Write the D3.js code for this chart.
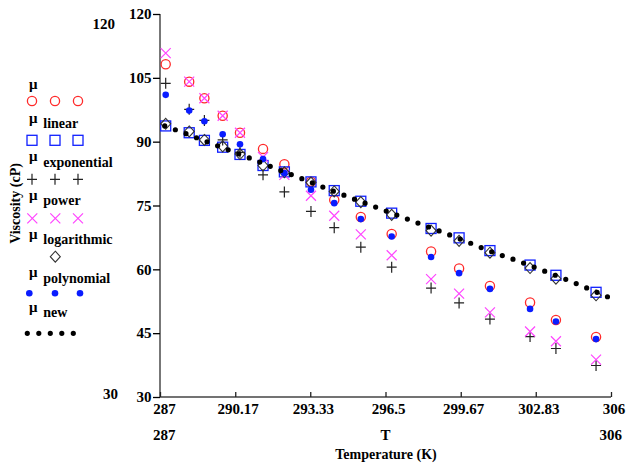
<!DOCTYPE html>
<html>
<head>
<meta charset="utf-8">
<script src="https://cdn.jsdelivr.net/npm/d3@7"></script>
<style>
  html, body { margin: 0; padding: 0; background: #fff; }
  svg { display: block; }
  text { font-family: "Liberation Serif", "Times New Roman", serif; font-weight: bold; fill: #000; }
</style>
</head>
<body>
<svg id="chart" width="628" height="468"></svg>
<script>
// Measured temperatures (K)
const T = [287.24, 288.23, 288.87, 289.64, 290.37, 291.34, 292.24, 293.36, 294.34,
           295.46, 296.76, 298.42, 299.60, 300.90, 302.59, 303.68, 305.37];

// Measured viscosity (cP)
const muMeasured = [108.2, 104.1, 100.2, 96.1, 92.1, 88.3, 84.7, 80.6, 76.3,
                    72.3, 68.3, 64.2, 60.2, 56.1, 52.2, 48.1, 44.1];

// Model predictions at the measured temperatures (cP)
const muLinear = [93.7, 92.1, 90.3, 88.7, 87.0, 84.4, 82.9, 80.55, 78.5,
                  76.0, 73.2, 69.6, 67.4, 64.4, 61.0, 58.6, 54.6];
const muExponential = [103.7, 97.6, 95.0, 90.4, 87.5, 82.2, 78.2, 73.6, 69.8,
                       65.2, 60.5, 55.6, 52.1, 48.3, 44.2, 41.4, 37.4];
const muPower = [110.8, 104.1, 100.2, 96.1, 92.1, 86.4, 82.2, 77.3, 72.6,
                 68.2, 63.3, 57.7, 54.3, 49.9, 45.4, 43.1, 38.8];
const muLogarithmic = [94.2, 92.4, 90.4, 88.9, 87.1, 84.4, 82.8, 80.4, 78.3,
                       75.8, 72.8, 69.1, 66.7, 63.9, 60.3, 57.8, 53.9];
const muPolynomial = [101.0, 97.3, 94.8, 91.75, 89.4, 85.9, 82.6, 78.7, 75.55,
                      71.8, 67.7, 62.9, 59.1, 55.4, 50.7, 47.75, 43.6];

// New correlation, evaluated over the temperature range
const newT = [287.2, 288, 289, 290, 291, 292, 293, 294, 295, 296, 297,
              298, 299, 300, 301, 302, 303, 304, 305, 306];
const newMu = [93.7, 92.08, 89.92, 87.81, 85.65, 83.42, 81.26, 79.03, 76.89, 74.8, 72.71,
               70.6, 68.51, 66.33, 64.07, 62.12, 60.01, 57.85, 55.57, 53.2];

// Axis ticks
const xTickValues = [287, 290.17, 293.33, 296.5, 299.67, 302.83, 306];
const xTickLabels = ["287", "290.17", "293.33", "296.5", "299.67", "302.83", "306"];
const yTickValues = [30, 45, 60, 75, 90, 105, 120];

// Legend subscripts
const legendSubs = ["", "linear", "exponential", "power", "logarithmic", "polynomial", "new"];

const svg = d3.select("#chart");
svg.append("rect").attr("width", 628).attr("height", 468).attr("fill", "#fff");

const x = d3.scaleLinear().domain([287, 306]).range([160, 611]);
const y = d3.scaleLinear().domain([30, 120]).range([397, 14]);

// ---- Axes ----
const yAxis = svg.append("g").attr("transform", "translate(160,0)")
  .call(d3.axisLeft(y).tickValues(yTickValues).tickSize(7).tickPadding(1.5).tickFormat(d3.format("d")));
yAxis.select(".domain").attr("stroke", "#777").attr("stroke-width", 2).attr("d", `M0,${y(120)}V${y(30)}`);
yAxis.selectAll(".tick line").attr("stroke", "#000").attr("stroke-width", 1.3);
yAxis.selectAll(".tick text").attr("font-size", 15).attr("fill", "#000")
  .style("font-family", "'Liberation Serif', serif").style("font-weight", "bold");

const xAxis = svg.append("g").attr("transform", `translate(0,${y(30)})`)
  .call(d3.axisBottom(x).tickValues(xTickValues).tickSize(-5).tickPadding(6)
        .tickFormat((d, i) => xTickLabels[i]));
xAxis.select(".domain").attr("stroke", "#444").attr("stroke-width", 1.5).attr("d", `M${x(287)},0H${x(306)}`);
xAxis.selectAll(".tick line").attr("stroke", "#222").attr("stroke-width", 1.3);
xAxis.selectAll(".tick text").attr("font-size", 15).attr("fill", "#000")
  .attr("dx", (d, i) => i === 0 ? 4 : 2.5)
  .style("font-family", "'Liberation Serif', serif").style("font-weight", "bold");

// Range limit labels and titles
svg.append("text").attr("x", 115).attr("y", 28.5).attr("text-anchor", "end").attr("font-size", 15).text("120");
svg.append("text").attr("x", 118).attr("y", 399).attr("text-anchor", "end").attr("font-size", 15).text("30");
svg.append("text").attr("x", 153).attr("y", 440).attr("font-size", 15).text("287");
svg.append("text").attr("x", 385.5).attr("y", 440).attr("text-anchor", "middle").attr("font-size", 15).text("T");
svg.append("text").attr("x", 622).attr("y", 440).attr("text-anchor", "end").attr("font-size", 15).text("306");
svg.append("text").attr("x", 386).attr("y", 458.5).attr("text-anchor", "middle").attr("font-size", 14).text("Temperature (K)");
svg.append("text").attr("transform", "translate(20,203.5) rotate(-90)").attr("text-anchor", "middle")
  .attr("font-size", 14).text("Viscosity (cP)");

// ---- Marker shapes ----
const shapes = {
  circle: (g, cx, cy) => g.append("circle").attr("cx", cx).attr("cy", cy).attr("r", 4.6)
    .attr("fill", "none").attr("stroke", "#ff2a2a").attr("stroke-width", 1.3),
  square: (g, cx, cy) => g.append("rect").attr("x", cx - 5).attr("y", cy - 5).attr("width", 10).attr("height", 10)
    .attr("fill", "none").attr("stroke", "#1020ff").attr("stroke-width", 1.3),
  plus: (g, cx, cy) => g.append("path").attr("d", `M${cx - 5},${cy}H${cx + 5}M${cx},${cy - 5.5}V${cy + 5.5}`)
    .attr("stroke", "#222").attr("stroke-width", 1.2).attr("fill", "none"),
  cross: (g, cx, cy) => g.append("path").attr("d", `M${cx - 5},${cy - 5}L${cx + 5},${cy + 5}M${cx - 5},${cy + 5}L${cx + 5},${cy - 5}`)
    .attr("stroke", "#ff44ff").attr("stroke-width", 1.2).attr("fill", "none"),
  diamond: (g, cx, cy) => g.append("path").attr("d", `M${cx},${cy - 5.5}L${cx + 5},${cy}L${cx},${cy + 5.5}L${cx - 5},${cy}Z`)
    .attr("stroke", "#333").attr("stroke-width", 1.1).attr("fill", "none"),
  dot: (g, cx, cy) => g.append("circle").attr("cx", cx).attr("cy", cy).attr("r", 3.3).attr("fill", "#0a1cff")
};

const series = [
  { values: muMeasured, shape: "circle" },
  { values: muLinear, shape: "square" },
  { values: muExponential, shape: "plus" },
  { values: muPower, shape: "cross" },
  { values: muLogarithmic, shape: "diamond" },
  { values: muPolynomial, shape: "dot" }
];

const plot = svg.append("g");
series.forEach(s => {
  const g = plot.append("g");
  s.values.forEach((v, i) => shapes[s.shape](g, x(T[i]), y(v)));
});

// New correlation as a dotted trace
const line = d3.line().x((d, i) => x(newT[i])).y(d => y(d)).curve(d3.curveMonotoneX);
plot.append("path").datum(newMu).attr("d", line)
  .attr("fill", "none").attr("stroke", "#000").attr("stroke-width", 5.2)
  .attr("stroke-linecap", "round").attr("stroke-dasharray", "0 11.3");

// ---- Legend ----
const legendRows = [
  { mu: 88.5, sub: 0, marks: 101, shape: "circle", xs: [32, 55, 78] },
  { mu: 123, sub: 128.3, marks: 140.3, shape: "square", xs: [32, 55, 78] },
  { mu: 160.5, sub: 166.7, marks: 179.3, shape: "plus", xs: [32, 55, 78] },
  { mu: 200, sub: 205, marks: 218.3, shape: "cross", xs: [32.3, 55.3, 78] },
  { mu: 239, sub: 244, marks: 256.7, shape: "diamond", xs: [55.3] },
  { mu: 276.5, sub: 283.3, marks: 293.3, shape: "dot", xs: [29.3, 55, 80] },
  { mu: 311.5, sub: 316.7, marks: 333.3, shape: "dotline", xs: [27.3, 73.3] }
];
const legend = svg.append("g");
legendRows.forEach((r, i) => {
  legend.append("text").attr("x", 29).attr("y", r.mu).attr("font-size", 15).text("\u03bc");
  if (legendSubs[i]) legend.append("text").attr("x", 43.3).attr("y", r.sub).attr("font-size", 14).text(legendSubs[i]);
  if (r.shape === "dotline") {
    legend.append("path").attr("d", `M${r.xs[0]},${r.marks}H${r.xs[1] + 0.5}`)
      .attr("stroke", "#000").attr("stroke-width", 5.2).attr("stroke-linecap", "round")
      .attr("stroke-dasharray", "0 11.5");
  } else {
    r.xs.forEach(cx => shapes[r.shape](legend, cx, r.marks));
  }
});
</script>
</body>
</html>
